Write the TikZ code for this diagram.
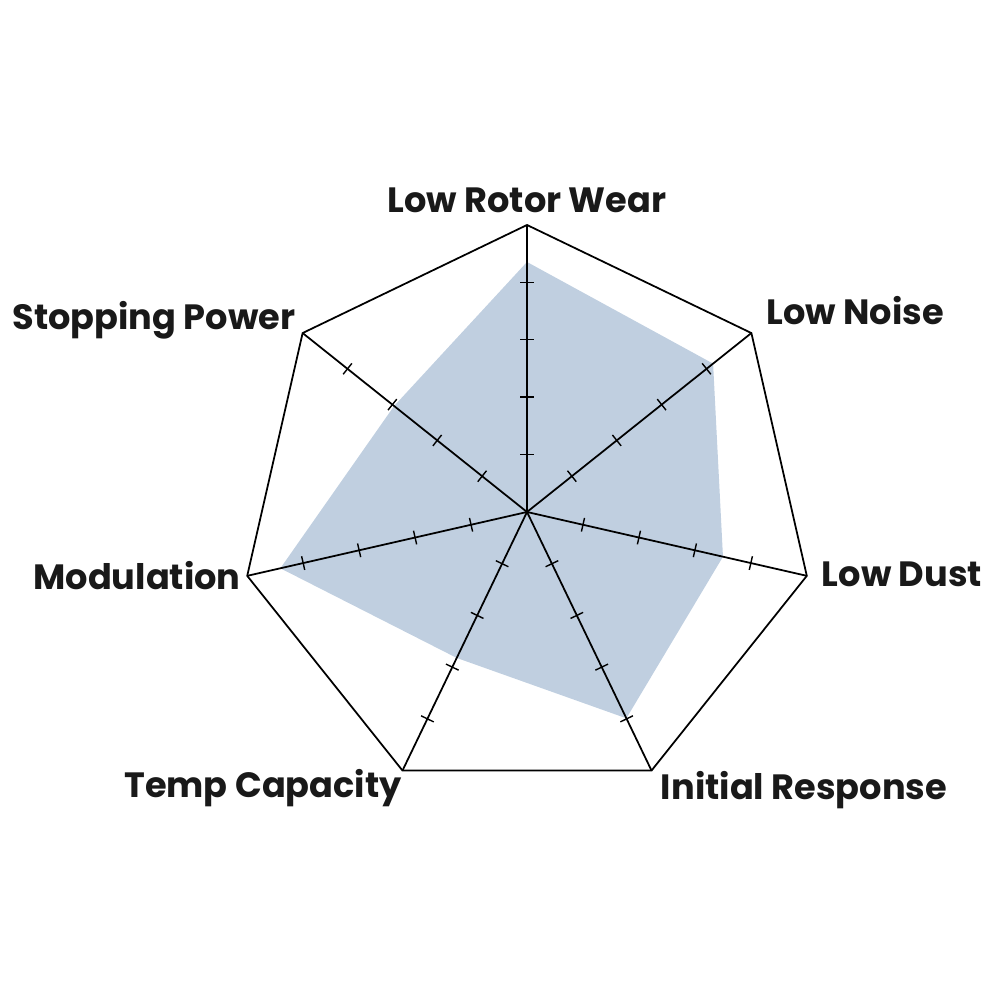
\documentclass[tikz,border=0pt]{standalone}
\usepackage{fontspec}
\setmainfont{Poppins}
\usetikzlibrary{positioning, calc}
\definecolor{areablue}{RGB}{192,207,224}
\begin{document}
\begin{tikzpicture}
\tikzset{axis/.style={draw=black, line width=0.5pt},
		tick/.style={draw=black, line width=0.4pt},
		label/.style={font=\bfseries\fontsize{10}{12}\selectfont, text=black!90, inner sep=0pt}}
\useasboundingbox (0,0) rectangle (10,10);
\coordinate (C) at (5.27,4.88);
% data area
\fill[areablue] ($(C)+(90:2.50)$) -- ($(C)+(38.57:2.38)$) -- ($(C)+(-12.86:2.01)$)
  -- ($(C)+(-64.29:2.29)$) -- ($(C)+(-115.71:1.62)$) -- ($(C)+(192.86:2.53)$)
  -- ($(C)+(141.43:1.70)$) -- cycle;
% frame, axes and ticks
\foreach \i in {0,...,6} {
  \pgfmathsetmacro{\a}{90-\i*360/7}
  \coordinate (V\i) at ($(C)+(\a:2.87)$);
  \draw[axis] (C) -- (V\i);
  \foreach \k in {1,...,4}
    \draw[tick] ($(C)+(\a:0.574*\k)+(\a+90:0.07)$) -- ($(C)+(\a:0.574*\k)+(\a-90:0.07)$);
}
\draw[axis] (V0) -- (V1) -- (V2) -- (V3) -- (V4) -- (V5) -- (V6) -- cycle;
% labels
\node[label] (LRW) at (5.27,8.00) {Low Rotor Wear};
\node[label] (LN) at (8.55,6.89) {Low Noise};
\node[label] (LD) at (9.02,4.26) {Low Dust};
\node[label] (IR) at (8.04,2.10) {Initial Response};
\node[label] (TC) at (2.63,2.12) {Temp Capacity};
\node[label] (MOD) at (1.37,4.24) {Modulation};
\node[label] (SP) at (1.54,6.80) {Stopping Power};
\end{tikzpicture}
\end{document}
